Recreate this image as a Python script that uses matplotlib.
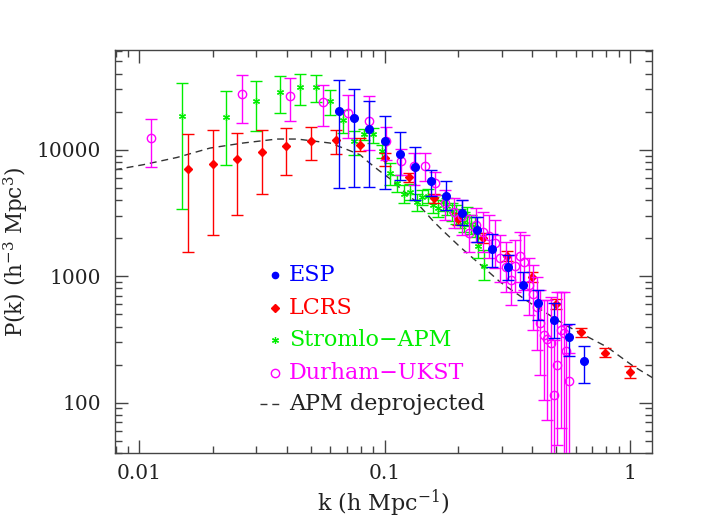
import matplotlib
matplotlib.use('Agg')
import matplotlib.pyplot as plt
from matplotlib.ticker import FixedLocator, FixedFormatter, LogLocator, NullFormatter
import numpy as np

plt.rcParams['font.family'] = ['DejaVu Serif']
plt.rcParams['mathtext.fontset'] = 'dejavuserif'

# ESP
esp_k = [0.065, 0.0751, 0.0867, 0.1002, 0.1157, 0.1336, 0.1543, 0.1783, 0.2059,
         0.2378, 0.2747, 0.3173, 0.3665, 0.4233, 0.4889, 0.5647, 0.6522]
esp_p = [20240, 17700, 14670, 11630, 9180, 7260, 5610, 4280, 3160, 2300, 1645,
         1190, 853, 615, 451, 329, 213]
esp_hi = [35400, 30400, 24440, 18370, 13880, 10500, 6950, 5640, 4020, 2950, 2160,
          1463, 1082, 780, 611, 417, 282]
esp_lo = [4975, 5090, 5090, 4910, 5780, 4020, 4330, 3350, 2550, 1870, 1190, 935,
          649, 451, 323, 234, 142]

# LCRS
lcrs_k = [0.01585, 0.01995, 0.0251, 0.0316, 0.0398, 0.0501, 0.0631, 0.0794, 0.1,
          0.1259, 0.1585, 0.1995, 0.2512, 0.3162, 0.3981, 0.5012, 0.631, 0.7943, 1.0]
lcrs_p = [7070, 7710, 8490, 9520, 10620, 11630, 11940, 10820, 8590, 6080, 4150,
          2843, 2021, 1449, 988, 600, 360, 248, 174]
lcrs_hi = [13390, 14390, 13460, 14390, 14750, 15030, 14390, 12380, 9420, 6540, 4490,
           3170, 2200, 1585, 1082, 661, 390, 271, 195]
lcrs_lo = [1567, 2124, 3055, 4490, 6340, 8280, 9300, 9700, 7470, 5510, 3800, 2550,
           1835, 1321, 893, 550, 330, 228, 157]

# Stromlo-APM
str_k = [0.015, 0.0225, 0.030, 0.0375, 0.045, 0.0525, 0.060, 0.0675, 0.075, 0.0825,
         0.090, 0.0975, 0.105, 0.1125, 0.12, 0.1275, 0.135, 0.1425, 0.15, 0.1575,
         0.165, 0.1725, 0.18, 0.1875, 0.195, 0.2025, 0.21, 0.2175, 0.225, 0.2325,
         0.24, 0.255]
str_p = [18500, 18240, 24440, 28790, 31350, 31350, 24120, 17280, 11680, 13310,
         13390, 9700, 6580, 5480, 4490, 4650, 3830, 4220, 4325, 3670, 3450, 3830,
         3600, 3250, 3110, 2895, 2705, 3000, 2595, 2470, 1746, 1206]
str_hi = [33700, 29170, 34750, 38040, 39730, 39000, 29480, 20730, 13970, 14660,
          14930, 10960, 7890, 6340, 5290, 5380, 4490, 4820, 4910, 4250, 4020, 4410,
          4170, 3800, 3670, 3410, 3225, 3540, 3055, 2945, 2200, 1615]
str_lo = [3393, 7510, 14060, 19380, 22590, 23990, 18820, 13560, 9130, 12000, 11360,
          8640, 5290, 4650, 3800, 4020, 3290, 3670, 3800, 3170, 2950, 3290, 3055,
          2740, 2595, 2410, 2245, 2500, 2160, 2045, 1396, 935]

# Durham-UKST
dur_k = [0.0112, 0.0262, 0.0412, 0.0562, 0.0712, 0.0862, 0.1012, 0.1162, 0.1312,
         0.1462, 0.1612, 0.1762, 0.1912, 0.2062, 0.2212, 0.2362, 0.2512, 0.2662,
         0.2812, 0.2962, 0.3112, 0.3262, 0.3412, 0.3562, 0.3712, 0.3862, 0.4012,
         0.4162, 0.4312, 0.4462, 0.4612, 0.4762, 0.4912, 0.5062, 0.5212, 0.5362,
         0.5512, 0.5662]
dur_p = [12380, 27760, 26770, 23990, 19530, 16970, 11780, 8080, 7470, 7470, 5450,
         3770, 3230, 3000, 2180, 2550, 2255, 2085, 1845, 1400, 1185, 935, 1207, 1448,
         1298, 853, 724, 571, 427, 343, 319, 296, 115, 199, 376, 356, 256, 148]
dur_hi = [17500, 39250, 36680, 32530, 26910, 26770, 15020, 10180, 9470, 9420, 6700,
          4820, 4170, 4020, 3060, 3470, 3230, 3060, 2790, 2120, 1870, 1475, 1940,
          2243, 2120, 1400, 1229, 988, 779, 649, 649, 686, 313, 751, 751, 751, 412, 247]
dur_lo = [7300, 16270, 16970, 15490, 12450, 10000, 8330, 6340, 5280, 5610, 4400,
          2790, 2410, 2120, 1560, 1870, 1560, 1400, 1160, 900, 750, 593, 750, 900,
          779, 494, 376, 261, 165, 105, 73, 10, 10, 46, 63, 10, 10, 10]

# APM deprojected
apm_k = [0.00796, 0.01035, 0.01425, 0.01942, 0.02647, 0.0364, 0.04394, 0.05989,
         0.06897, 0.07937, 0.08555, 0.09399, 0.1052, 0.1177, 0.133, 0.1575, 0.1714,
         0.2029, 0.2518, 0.2954, 0.3915, 0.554, 0.8066, 1.0294, 1.2421]
apm_p = [6944, 7606, 8690, 10310, 11300, 12150, 12150, 11300, 10180, 9130, 8035,
         6944, 5894, 4823, 3947, 2741, 2326, 1706, 1185, 901, 615, 404, 275.5, 195,
         156.6]

c_esp = '#0000ff'
c_lcrs = '#ff0000'
c_str = '#00ee00'
c_dur = '#ff00ff'
c_apm = '#333333'
frame = '#444444'


def yerr(p, lo, hi):
    p = np.array(p, float)
    return [p - np.array(lo, float), np.array(hi, float) - p]


fig = plt.figure(figsize=(7.08, 5.30), dpi=100)
ax = fig.add_axes([0.1624, 0.1453, 0.7585, 0.7604])

ax.plot(apm_k, apm_p, ls=(0, (5, 3.5)), color=c_apm, lw=1.0, zorder=1)

ax.errorbar(str_k, str_p, yerr=yerr(str_p, str_lo, str_hi), fmt='none',
            ecolor=c_str, elinewidth=1, capsize=4.5, capthick=1, zorder=2)
ax.plot(str_k, str_p, ls='none', marker=(6, 2, 0), ms=5, mew=0.9,
        color=c_str, zorder=2)

ax.errorbar(lcrs_k, lcrs_p, yerr=yerr(lcrs_p, lcrs_lo, lcrs_hi), fmt='D',
            ms=4.5, color=c_lcrs, ecolor=c_lcrs, elinewidth=1, capsize=4.5,
            capthick=1, zorder=3)

ax.errorbar(dur_k, dur_p, yerr=yerr(dur_p, dur_lo, dur_hi), fmt='o', ms=6,
            mfc='none', mec=c_dur, mew=1, ecolor=c_dur, elinewidth=1,
            capsize=4.5, capthick=1, zorder=4)

ax.errorbar(esp_k, esp_p, yerr=yerr(esp_p, esp_lo, esp_hi), fmt='o', ms=5.5,
            color=c_esp, ecolor=c_esp, elinewidth=1, capsize=4.5, capthick=1,
            zorder=5)

ax.set_xscale('log')
ax.set_yscale('log')
ax.set_xlim(0.00796, 1.23)
ax.set_ylim(40, 61500)

ax.xaxis.set_major_locator(FixedLocator([0.01, 0.1, 1]))
ax.xaxis.set_major_formatter(FixedFormatter(['0.01', '0.1', '1']))
ax.yaxis.set_major_locator(FixedLocator([100, 1000, 10000]))
ax.yaxis.set_major_formatter(FixedFormatter(['100', '1000', '10000']))
ax.xaxis.set_minor_locator(LogLocator(base=10, subs=np.arange(2, 10), numticks=20))
ax.yaxis.set_minor_locator(LogLocator(base=10, subs=np.arange(2, 10), numticks=20))
ax.xaxis.set_minor_formatter(NullFormatter())
ax.yaxis.set_minor_formatter(NullFormatter())

ax.tick_params(which='both', direction='in', top=True, right=True,
               color=frame, width=1, labelsize=14.5, labelcolor='#222222')
ax.tick_params(which='major', length=9.5)
ax.tick_params(which='minor', length=5)
ax.tick_params(axis='x', pad=8)
ax.tick_params(axis='y', pad=10)
for s in ax.spines.values():
    s.set_color(frame)
    s.set_linewidth(1)

ax.set_xlabel(r'k (h Mpc$^{-1}$)', fontsize=16, color='#222222', labelpad=3)
ax.set_ylabel(r'P(k) (h$^{-3}$ Mpc$^{3}$)', fontsize=15.5, color='#222222',
              labelpad=5)

# legend
mx, tx = 0.298, 0.324
rows = [0.4417, 0.3600, 0.2804, 0.1985, 0.1216]
ax.plot([mx], [rows[0]], 'o', ms=4.5, color=c_esp, transform=ax.transAxes)
ax.plot([mx], [rows[1]], 'D', ms=4.5, color=c_lcrs, transform=ax.transAxes)
ax.plot([mx], [rows[2]], ls='none', marker=(6, 2, 0), ms=5, mew=0.9,
        color=c_str, transform=ax.transAxes)
ax.plot([mx], [rows[3]], 'o', ms=6, mfc='none', mec=c_dur, mew=1,
        transform=ax.transAxes)
ax.plot([0.270, 0.311], [rows[4], rows[4]], ls=(0, (5, 3.5)), color=c_apm,
        lw=1.0, transform=ax.transAxes)
labels = ['ESP', 'LCRS', 'Stromlo\u2212APM', 'Durham\u2212UKST', 'APM deprojected']
colors = [c_esp, c_lcrs, c_str, c_dur, '#222222']
for lab, col, yy in zip(labels, colors, rows):
    ax.text(tx, yy, lab, color=col, fontsize=16, va='center', ha='left',
            transform=ax.transAxes)

fig.savefig('out.png', dpi=100)
